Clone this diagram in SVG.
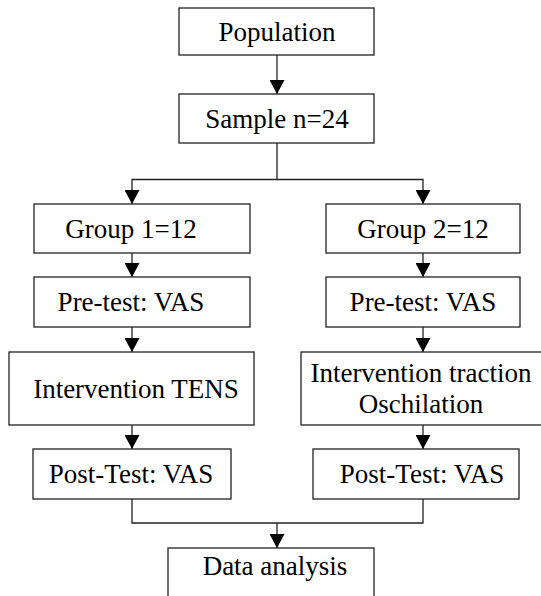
<svg xmlns="http://www.w3.org/2000/svg" width="541" height="596" viewBox="0 0 541 596">
<style>
.box{fill:#fff;stroke:#222;stroke-width:1.3}
.c{fill:none;stroke:#222;stroke-width:1.3}
.t{font-family:"Liberation Serif","Times New Roman",serif;font-size:27px;fill:#000;text-anchor:middle}
</style>
<defs>
<marker id="ah" markerUnits="userSpaceOnUse" markerWidth="15" markerHeight="15" viewBox="0 0 15 15" refX="14" refY="7.5" orient="auto">
<path d="M0,0 L14,7.5 L0,15 z" fill="#000"/>
</marker>
</defs>
<rect width="541" height="596" fill="#fff"/>
<g id="connectors">
<path class="c" d="M277,55 V94" marker-end="url(#ah)"/>
<path class="c" d="M277,143 V179.5 H132 V204" marker-end="url(#ah)"/>
<path class="c" d="M277,179.5 H423 V204" marker-end="url(#ah)"/>
<path class="c" d="M132,253 V277" marker-end="url(#ah)"/>
<path class="c" d="M423,253 V277" marker-end="url(#ah)"/>
<path class="c" d="M132,327 V352" marker-end="url(#ah)"/>
<path class="c" d="M423,327 V352" marker-end="url(#ah)"/>
<path class="c" d="M132,425 V449" marker-end="url(#ah)"/>
<path class="c" d="M423,425 V449" marker-end="url(#ah)"/>
<path class="c" d="M132,499 V523 H423 V499"/>
<path class="c" d="M277,523 V548" marker-end="url(#ah)"/>
</g>
<g id="population"><rect class="box" x="179" y="8" width="195" height="47"/><text class="t" x="277" y="41">Population</text></g>
<g id="sample"><rect class="box" x="179" y="94" width="195" height="49"/><text class="t" x="277" y="128">Sample n=24</text></g>
<g id="group1"><rect class="box" x="34" y="204" width="216" height="49"/><text class="t" x="131" y="238">Group 1=12</text></g>
<g id="group2"><rect class="box" x="326" y="204" width="194" height="49"/><text class="t" x="423" y="238">Group 2=12</text></g>
<g id="pretest1"><rect class="box" x="34" y="277" width="216" height="50"/><text class="t" x="131" y="311">Pre-test: VAS</text></g>
<g id="pretest2"><rect class="box" x="326" y="277" width="194" height="50"/><text class="t" x="423" y="311">Pre-test: VAS</text></g>
<g id="intervention1"><rect class="box" x="9" y="352" width="245" height="73"/><text class="t" x="136" y="398">Intervention TENS</text></g>
<g id="intervention2"><rect class="box" x="301" y="352" width="242" height="73"/><text class="t" x="421" y="382">Intervention traction</text><text class="t" x="421" y="413">Oschilation</text></g>
<g id="posttest1"><rect class="box" x="33" y="449" width="198" height="50"/><text class="t" x="131" y="483">Post-Test: VAS</text></g>
<g id="posttest2"><rect class="box" x="313" y="449" width="206" height="50"/><text class="t" x="422" y="483">Post-Test: VAS</text></g>
<g id="dataanalysis"><rect class="box" x="168" y="548" width="206" height="60"/><text class="t" x="275" y="575">Data analysis</text></g>
</svg>
